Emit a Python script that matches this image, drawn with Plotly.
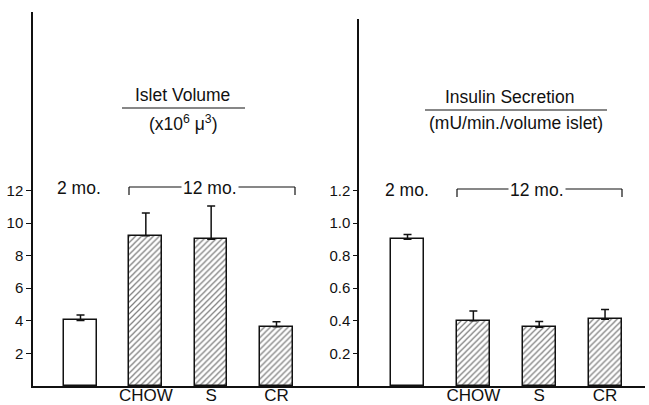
import plotly.graph_objects as go

# ---- data ----
groups = ["2 mo.", "CHOW", "S", "CR"]
cat_ticks = [1, 2, 3]
cat_text = ["CHOW", "S", "CR"]
islet_volume = [4.02, 9.22, 9.0, 3.64]
islet_volume_err = [0.33, 1.40, 2.05, 0.30]
insulin_secretion = [0.90, 0.40, 0.36, 0.41]
insulin_secretion_err = [0.03, 0.06, 0.035, 0.06]
left_ticks = [2, 4, 6, 8, 10, 12]
right_ticks = [0.2, 0.4, 0.6, 0.8, 1.0, 1.2]
right_ticktext = ["0.2", "0.4", "0.6", "0.8", "1.0", "1.2"]

W, H = 649, 405
MB = 19
PH = H - MB
FONT = "Liberation Sans, Arial, Helvetica, sans-serif"
INK = "#111111"
TS = 17.5

def px(x):
    return x / W

def py(y):
    return (PH - y) / PH

xpos = list(range(len(groups)))
shapes_pat = ["", "/", "/", "/"]

fig = go.Figure()

def add_bars(vals, errs, xa, ya):
    fig.add_trace(go.Bar(
        x=xpos, y=vals, width=0.5, xaxis=xa, yaxis=ya,
        marker=dict(color="white",
                    line=dict(color=INK, width=1.5),
                    pattern=dict(shape=shapes_pat, fgcolor="#000000",
                                 bgcolor="white", size=4.2, solidity=0.3)),
        error_y=dict(type="data", symmetric=False, array=errs,
                     arrayminus=[0] * len(errs), color=INK,
                     thickness=1.5, width=4),
        showlegend=False,
    ))

add_bars(islet_volume, islet_volume_err, "x", "y")
add_bars(insulin_secretion, insulin_secretion_err, "x2", "y2")

axis_common = dict(showgrid=False, zeroline=False, showline=True,
                   linecolor=INK, linewidth=1.5, automargin=False)

fig.update_layout(
    width=W, height=H,
    margin=dict(l=0, r=0, t=0, b=MB, autoexpand=False),
    paper_bgcolor="white", plot_bgcolor="white",
    font=dict(family=FONT, color=INK),
    bargap=0,
    xaxis=dict(domain=[px(33), px(359)], range=[-0.727, 4.263],
               tickvals=cat_ticks, ticktext=cat_text, ticks="", anchor="y",
               ticklabelstandoff=-7,
               tickfont=dict(family=FONT, size=17, color=INK),
               **axis_common),
    yaxis=dict(domain=[0, py(12)], range=[0, (PH - 12) / 16.3],
               tickvals=left_ticks,
               ticks="outside", ticklen=5, tickwidth=1.2, tickcolor=INK,
               anchor="x", tickfont=dict(family=FONT, size=15, color=INK),
               **axis_common),
    xaxis2=dict(domain=[px(359), px(645)], range=[-0.737, 3.607],
                tickvals=cat_ticks, ticktext=cat_text, ticks="", anchor="y2",
                ticklabelstandoff=-7,
                tickfont=dict(family=FONT, size=17, color=INK),
                **axis_common),
    yaxis2=dict(domain=[0, py(19)], range=[0, (PH - 19) / 163.0],
                tickvals=right_ticks,
                ticktext=right_ticktext, ticks="outside", ticklen=4,
                tickwidth=1.2, tickcolor=INK, anchor="x2",
                tickfont=dict(family=FONT, size=15, color=INK),
                **axis_common),
)

ann = []
shp = []

def text(x, y, s, size=TS, bg=None):
    d = dict(x=px(x), y=py(y), xref="paper", yref="paper", text=s,
             showarrow=False, xanchor="center", yanchor="middle",
             font=dict(family=FONT, size=size, color=INK))
    if bg:
        d.update(bgcolor=bg, borderpad=1)
    ann.append(d)

def line(x0, y0, x1, y1, w=1.2):
    shp.append(dict(type="line", xref="paper", yref="paper",
                    x0=px(x0), y0=py(y0), x1=px(x1), y1=py(y1),
                    line=dict(color=INK, width=w)))

# titles
text(183, 95, "Islet Volume")
line(122, 108, 245, 108)
text(183, 123, "(x10<sup>6</sup> \u03bc<sup>3</sup>)")
text(510, 97, "Insulin Secretion")
line(425, 110, 607, 110)
text(516, 123, "(mU/min./volume islet)")

# group labels and brackets
for (xl, xr, yb, c2, c12) in [(129, 295, 187, 79, 210), (457, 622, 189, 407, 537)]:
    line(xl, yb, xr, yb)
    line(xl, yb, xl, yb + 8)
    line(xr, yb, xr, yb + 8)
    text(c2, yb + 1, groups[0])
    text(c12, yb + 1, "12 mo.", bg="white")

fig.update_layout(annotations=ann, shapes=shp)
fig.write_html("out.html")
